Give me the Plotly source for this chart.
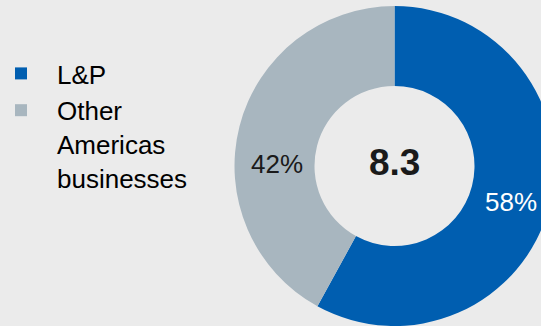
import plotly.graph_objects as go

# ---- data ----
labels = ["L&P", "Other<br>Americas<br>businesses"]
values = [58, 42]
pct_labels = ["58%", "42%"]
total_label = "8.3"
colors = ["#005EB0", "#A8B6BF"]

W, H = 556, 326
BG = "#EBEBEB"
FONT = "Arial, Liberation Sans, sans-serif"

fig = go.Figure(
    go.Pie(
        labels=labels,
        values=values,
        hole=0.5,
        sort=False,
        direction="clockwise",
        rotation=0,
        marker=dict(colors=colors, line=dict(width=0)),
        textinfo="none",
        hoverinfo="skip",
        domain=dict(x=[234.5 / W, 554.5 / W], y=[0, 320 / H]),
    )
)

def px(x):
    return x / W

def py(y):
    return 1 - y / H

annos = [
    dict(text="<b>" + total_label + "</b>", x=px(394.5), y=py(162), font=dict(size=37, color="#1A1A1A")),
    dict(text=pct_labels[1], x=px(277), y=py(164), font=dict(size=26, color="#1A1A1A")),
    dict(text=pct_labels[0], x=px(510.5), y=py(202), font=dict(size=26, color="#FFFFFF")),
]
for a in annos:
    a.update(xref="paper", yref="paper", showarrow=False, xanchor="center", yanchor="middle")

fig.update_layout(
    width=W,
    height=H,
    margin=dict(l=0, r=0, t=0, b=0, autoexpand=False),
    paper_bgcolor=BG,
    plot_bgcolor=BG,
    font=dict(family=FONT, color="#000000"),
    showlegend=True,
    legend=dict(
        x=0, xanchor="left", y=py(50), yanchor="top",
        font=dict(size=26, family=FONT, color="#000000"),
        itemwidth=62, indentation=-15, valign="top",
        bgcolor="rgba(0,0,0,0)", itemclick=False, itemdoubleclick=False,
    ),
    annotations=annos,
)

fig.write_html(
    "out.html",
    config={"displayModeBar": False},
    post_script="document.documentElement.style.overflow='hidden';document.body.style.overflow='hidden';document.body.style.margin='0';",
)
